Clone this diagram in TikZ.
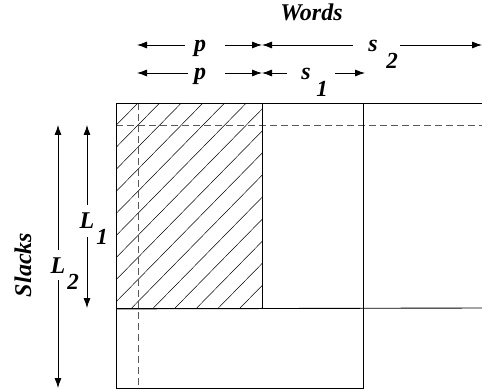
\documentclass[tikz,border=0pt]{standalone}
\usepackage{fontspec}
\setmainfont{Liberation Serif}
\usetikzlibrary{arrows.meta}
\tikzset{
  lbl/.style={font=\fontsize{24}{28}\selectfont\bfseries\itshape, inner sep=0pt, anchor=base},
  sub/.style={font=\fontsize{23}{27}\selectfont\bfseries\itshape, inner sep=0pt, anchor=base},
  box/.style={draw=black, line width=0.9pt},
  edge/.style={draw=black, line width=0.9pt},
  hatch/.style={draw=black, line width=0.5pt},
  guide/.style={draw=black!65, line width=0.9pt, dash pattern=on 7pt off 4pt},
  dim/.style={draw=black, line width=0.8pt},
  tip/.style={dim, -{Latex[length=10pt,width=7pt]}}
}
\begin{document}
\begin{tikzpicture}[x=1pt,y=-1pt]
\useasboundingbox (0,0) rectangle (482,390);
% hatching
\begin{scope}
  \clip (116,103) rectangle (262,308);
  \foreach \k in {-12,...,7} {
    \draw[hatch] ({131.7+21.67*\k},308) -- ({131.7+21.67*\k+201.3},103);
  }
\end{scope}
% guides
\coordinate (gh1) at (116,125);
\coordinate (gh2) at (482,125);
\coordinate (gv1) at (138,103);
\coordinate (gv2) at (138,385);
\draw[guide] (gh1) -- (gh2);
\draw[guide] (gv1) -- (gv2);
% boxes
\node[box, minimum width=247pt, minimum height=285pt, anchor=north west, inner sep=0pt] (big) at (116,103) {};
\node[box, minimum width=146pt, minimum height=205pt, anchor=north west, inner sep=0pt] (hat) at (116,103) {};
\coordinate (topR) at (482,103);
\coordinate (midR) at (482,308);
\draw[edge] (big.north east) -- (topR);
\draw[edge] (hat.south west) -- (midR);
% text labels
\node[lbl] (words) at (311.5,21) {Words};
\node[lbl] (p1) at (200,52) {p};
\node[lbl] (p2) at (200,80) {p};
\node[lbl] (s2) at (373,52) {s};
\node[sub] (s2i) at (392,69) {2};
\node[lbl] (s1) at (306,80) {s};
\node[sub] (s1i) at (322,97) {1};
\node[lbl] (L1) at (87,229) {L};
\node[sub] (L1i) at (102,245) {1};
\node[lbl] (L2) at (58,273) {L};
\node[sub] (L2i) at (73,290) {2};
\node[lbl, rotate=90, anchor=center] (slacks) at (23,265) {Slacks};
% row 1
\coordinate (r1a) at (137,45);
\coordinate (r1b) at (185,45);
\coordinate (r1c) at (225,45);
\coordinate (r1m) at (262,45);
\coordinate (r1d) at (353,45);
\coordinate (r1e) at (400,45);
\coordinate (r1f) at (482,45);
\draw[tip] (r1b) -- (r1a);
\draw[tip] (r1c) -- (r1m);
\draw[tip] (r1d) -- (r1m);
\draw[tip] (r1e) -- (r1f);
% row 2
\coordinate (r2a) at (137,73);
\coordinate (r2b) at (188,73);
\coordinate (r2c) at (225,73);
\coordinate (r2m) at (262,73);
\coordinate (r2d) at (287,73);
\coordinate (r2e) at (335,73);
\coordinate (r2f) at (365,73);
\draw[tip] (r2b) -- (r2a);
\draw[tip] (r2c) -- (r2m);
\draw[tip] (r2d) -- (r2m);
\draw[tip] (r2e) -- (r2f);
% L1
\coordinate (v1a) at (87,125);
\coordinate (v1b) at (87,205);
\coordinate (v1c) at (87,237);
\coordinate (v1d) at (87,308);
\draw[tip] (v1b) -- (v1a);
\draw[tip] (v1c) -- (v1d);
% L2
\coordinate (v2a) at (58,125);
\coordinate (v2b) at (58,250);
\coordinate (v2c) at (58,280);
\coordinate (v2d) at (58,388);
\draw[tip] (v2b) -- (v2a);
\draw[tip] (v2c) -- (v2d);
\end{tikzpicture}
\end{document}
